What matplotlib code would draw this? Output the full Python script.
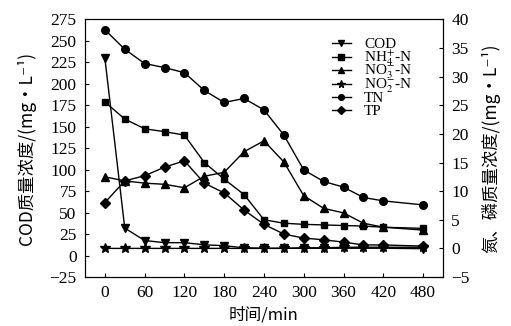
import matplotlib
matplotlib.use("Agg")
import matplotlib.pyplot as plt

plt.rcParams['font.family'] = ['Liberation Serif', 'Noto Sans CJK SC']
plt.rcParams['mathtext.fontset'] = 'stix'

time = [0, 30, 60, 90, 120, 150, 180, 210, 240, 270, 300, 330, 360, 390, 420, 480]
cod = [230, 32, 17.5, 15, 15, 12.5, 11.5, 9, 8.5, 8.5, 8.5, 8.5, 8.5, 8.5, 8.5, 8]
nh4 = [25.6, 22.6, 20.9, 20.4, 19.8, 15.0, 12.1, 9.4, 5.0, 4.4, 4.2, 4.1, 4.0, 3.9, 3.7, 3.5]
no3 = [12.5, 11.8, 11.4, 11.2, 10.6, 12.6, 13.3, 16.9, 18.8, 15.1, 9.2, 7.0, 6.2, 4.4, 3.7, 3.2]
no2 = [0, 0, 0, 0, 0, 0, 0, 0, 0, 0, 0.1, 0.1, 0.2, 0.2, 0.2, 0.2]
tn = [38.2, 34.8, 32.3, 31.6, 30.7, 27.6, 25.5, 26.2, 24.2, 19.8, 13.7, 11.7, 10.7, 8.9, 8.3, 7.6]
tp = [8.0, 11.8, 12.7, 14.2, 15.3, 11.4, 9.7, 6.7, 4.2, 2.5, 1.8, 1.5, 1.1, 0.6, 0.6, 0.4]

labels = ['COD', r'NH$_4^{+}$-N', r'NO$_3^{-}$-N', r'NO$_2^{-}$-N', 'TN', 'TP']
markers = ['v', 's', '^', '*', 'o', 'D']
msizes = [5.5, 5, 5.5, 7.5, 5.5, 5]

xticks = [0, 60, 120, 180, 240, 300, 360, 420, 480]
left_ticks = [-25, 0, 25, 50, 75, 100, 125, 150, 175, 200, 225, 250, 275]
right_ticks = [-5, 0, 5, 10, 15, 20, 25, 30, 35, 40]

cjk = ['Noto Sans CJK SC', 'DejaVu Sans']

fig = plt.figure(figsize=(5.11, 3.26), dpi=100)
ax = fig.add_axes([0.1663, 0.1503, 0.7006, 0.7899])
ax2 = ax.twinx()

series = [cod, nh4, no3, no2, tn, tp]
for i, (vals, m, ms) in enumerate(zip(series, markers, msizes)):
    target = ax if i == 0 else ax2
    target.plot(time, vals, marker=m, color='black', lw=1.0, markersize=ms)

ax.set_xlim(-30, 510)
ax.set_ylim(-25, 275)
ax2.set_ylim(-5, 40)
ax.set_xticks(xticks)
ax.set_yticks(left_ticks)
ax2.set_yticks(right_ticks)

for a in (ax, ax2):
    a.tick_params(direction='in', length=3, width=0.8, labelsize=12.5, pad=6)
    for s in a.spines.values():
        s.set_linewidth(0.8)

ax.set_xlabel('时间/min', fontsize=12, labelpad=4, family=cjk)
ax.set_ylabel('COD质量浓度/(mg·L⁻¹)', fontsize=12.5, labelpad=10, family=cjk)
ax2.set_ylabel('氮、磷质量浓度/(mg·L⁻¹)', fontsize=12.5, labelpad=8, family=cjk)

# manual legend (fixed row spacing like the reference)
x0, x1, xt = 0.690, 0.742, 0.780
y_top, dy = 0.907, 0.052
for i, (lab, m, ms) in enumerate(zip(labels, markers, msizes)):
    y = y_top - i * dy
    ax2.plot([x0, (x0 + x1) / 2, x1], [y, y, y], transform=ax2.transAxes,
             color='black', lw=1.0, marker=m, markersize=ms * 0.75,
             markevery=[1], clip_on=False)
    ax2.text(xt, y - 0.019, lab, transform=ax2.transAxes, fontsize=11,
             va='baseline', ha='left')

fig.savefig('out.png', dpi=100)
